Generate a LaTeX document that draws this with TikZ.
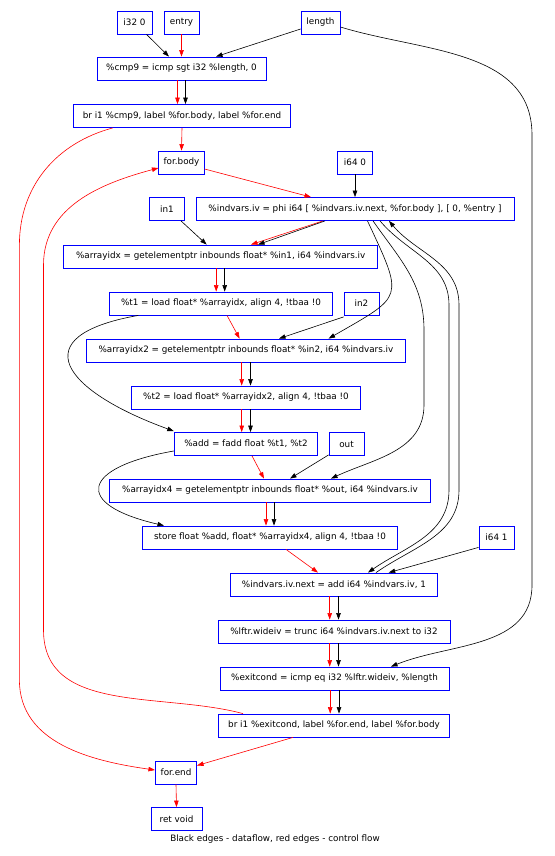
\documentclass[tikz,border=0pt]{standalone}
\usepackage{fontspec}
\setmainfont{DejaVu Sans}
\usepackage{xcolor}
\usepackage{tikz}
\usetikzlibrary{arrows.meta, calc}

\begin{document}
\begin{tikzpicture}[
    x=1pt, y=1pt,
    box/.style={draw=blue, line width=0.8pt, minimum height=23pt, inner sep=0pt,
        font=\fontsize{8.8}{10}\selectfont},
    df/.style={draw=black, line width=0.6pt, -{Triangle[length=6.5pt,width=4.5pt]}},
    cf/.style={draw=red, line width=0.6pt, -{Triangle[length=6.5pt,width=4.5pt]}}
    ]
    \useasboundingbox (0,0) rectangle (554,-856);

    \node[box, minimum width=35pt] (ione) at (134.5,-22.5) {i32 0};
    \node[box, minimum width=35pt] (entry) at (181.5,-22.5) {entry};
    \node[box, minimum width=39pt] (len) at (320.5,-22.5) {length};
    \node[box, minimum width=169pt] (cmp) at (181.5,-68.5) {\%cmp9 = icmp sgt i32 \%length, 0};
    \node[box, minimum width=216.5pt] (brone) at (182,-116) {br i1 \%cmp9, label \%for.body, label \%for.end};
    \node[box, minimum width=45.3pt] (fb) at (181.5,-162.5) {for.body};
    \node[box, minimum width=35pt] (izero) at (355,-162.5) {i64 0};
    \node[box, minimum width=318pt] (iv) at (355,-209) {\%indvars.iv = phi i64 [ \%indvars.iv.next, \%for.body ], [ 0, \%entry ]};
    \node[box, minimum width=35.5pt] (inone) at (167,-209) {in1};
    \node[box, minimum width=314pt] (aidx) at (220.7,-256.5) {\%arrayidx = getelementptr inbounds float* \%in1, i64 \%indvars.iv};
    \node[box, minimum width=222.5pt] (tone) at (221,-303.5) {\%t1 = load float* \%arrayidx, align 4, !tbaa !0};
    \node[box, minimum width=35pt] (intwo) at (361.5,-303.5) {in2};
    \node[box, minimum width=319.7pt] (aidxtwo) at (246,-350.5) {\%arrayidx2 = getelementptr inbounds float* \%in2, i64 \%indvars.iv};
    \node[box, minimum width=229.4pt] (ttwo) at (246,-397.5) {\%t2 = load float* \%arrayidx2, align 4, !tbaa !0};
    \node[box, minimum width=143.7pt] (add) at (246,-444) {\%add = fadd float \%t1, \%t2};
    \node[box, minimum width=35pt] (out) at (346.5,-444) {out};
    \node[box, minimum width=320.4pt] (aidxfour) at (270,-490.5) {\%arrayidx4 = getelementptr inbounds float* \%out, i64 \%indvars.iv};
    \node[box, minimum width=255.6pt] (store) at (270,-537.5) {store float \%add, float* \%arrayidx4, align 4, !tbaa !0};
    \node[box, minimum width=35.2pt] (ivone) at (496.5,-537.5) {i64 1};
    \node[box, minimum width=206.5pt] (next) at (334,-584.5) {\%indvars.iv.next = add i64 \%indvars.iv, 1};
    \node[box, minimum width=232pt] (lftr) at (334,-631.5) {\%lftr.wideiv = trunc i64 \%indvars.iv.next to i32};
    \node[box, minimum width=228.8pt] (exc) at (334.5,-678.5) {\%exitcond = icmp eq i32 \%lftr.wideiv, \%length};
    \node[box, minimum width=230.8pt] (brtwo) at (334,-725.5) {br i1 \%exitcond, label \%for.end, label \%for.body};
    \node[box, minimum width=41.3pt] (fe) at (176,-772.5) {for.end};
    \node[box, minimum width=50.8pt] (ret) at (176.5,-819) {ret void};
    \node[font=\fontsize{8.8}{10}\selectfont] (caption) at (275,-839) {Black edges - dataflow, red edges - control flow};

    % bends of the long edges
    \coordinate (rt1) at (532,-135);
    \coordinate (rt2) at (532,-585);
    \coordinate (lf1) at (19.4,-245);
    \coordinate (lf2) at (19.4,-680);
    \coordinate (lf3) at (43.5,-630);
    \coordinate (lf4) at (43.5,-265);
    \coordinate (wa1) at (424,-330);
    \coordinate (wa2) at (424,-405);
    \coordinate (wb1) at (449,-305);
    \coordinate (wb2) at (449,-490);
    \coordinate (wc1) at (459,-305);
    \coordinate (wc2) at (459,-490);

    \draw[df] ([xshift=12pt]ione.south) -- ([xshift=-12.5pt]cmp.north);
    \draw[cf] (entry.south) -- (cmp.north);
    \draw[df] ([yshift=-6.5pt]len.west) -- ([xshift=34.5pt]cmp.north);
    \draw[df] ([yshift=-4.5pt]len.east) to[out=-17,in=90] (rt1) -- (rt2)
        to[out=-90,in=22] ([xshift=56.5pt]exc.north);
    \draw[cf] ([xshift=-4pt]cmp.south) -- ([xshift=-4pt]cmp.south |- brone.north);
    \draw[df] ([xshift=4pt]cmp.south) -- ([xshift=4pt]cmp.south |- brone.north);
    \draw[cf] (brone.south) -- (fb.north);
    \draw[cf] ([xshift=39.5pt]brone.south west) to[out=195,in=90] (lf1) -- (lf2)
        to[out=-90,in=172] ([yshift=2.5pt]fe.west);
    \draw[cf] ([xshift=-91pt]brtwo.north) to[out=165,in=-90] (lf3) -- (lf4)
        to[out=90,in=195] ([yshift=-5.5pt]fb.west);
    \draw[cf] ([yshift=-6.5pt]fb.east) -- ([xshift=-44pt]iv.north);
    \draw[df] (izero.south) -- (iv.north);
    \draw[df] ([xshift=14pt]inone.south) -- ([xshift=-14pt]aidx.north);
    \draw[cf] ([xshift=-32pt]iv.south) -- ([xshift=30.3pt]aidx.north);
    \draw[df] ([xshift=-30pt]iv.south) -- ([xshift=37.3pt]aidx.north);
    \draw[df] ([xshift=12.5pt]iv.south) to[out=-65,in=30,looseness=1.8] ([xshift=82.6pt]aidxtwo.north);
    \draw[df] ([xshift=18pt]iv.south) to[out=-55,in=90] (wa1) -- (wa2)
        to[out=-90,in=25] ([xshift=61pt]aidxfour.north);
    \draw[df] ([xshift=25pt]iv.south) to[out=-50,in=90] (wb1) -- (wb2)
        to[out=-90,in=35] ([xshift=34pt]next.north);
    \draw[df] ([xshift=42pt]next.north) to[out=35,in=-90] (wc2) -- (wc1)
        to[out=90,in=-50] ([xshift=34pt]iv.south);
    \draw[df] ([yshift=2pt]ivone.south west) -- ([xshift=54.7pt]next.north);
    \draw[cf] ([xshift=-4.5pt]aidx.south) -- ([xshift=-4.5pt]aidx.south |- tone.north);
    \draw[df] ([xshift=4pt]aidx.south) -- ([xshift=4pt]aidx.south |- tone.north);
    \draw[df] ([xshift=29pt]tone.south west) to[out=190,in=160,looseness=2.5] ([yshift=1pt]add.north west);
    \draw[cf] ([xshift=6pt]tone.south) -- ([xshift=-6.4pt]aidxtwo.north);
    \draw[df] ([yshift=-1.5pt]intwo.south west) -- ([xshift=33pt]aidxtwo.north);
    \draw[cf] ([xshift=-4.3pt]aidxtwo.south) -- ([xshift=-4.3pt]aidxtwo.south |- ttwo.north);
    \draw[df] ([xshift=4.5pt]aidxtwo.south) -- ([xshift=4.5pt]aidxtwo.south |- ttwo.north);
    \draw[cf] ([xshift=-4.3pt]ttwo.south) -- ([xshift=-4.3pt]ttwo.south |- add.north);
    \draw[df] ([xshift=4.5pt]ttwo.south) -- ([xshift=4.5pt]ttwo.south |- add.north);
    \draw[cf] ([xshift=6pt]add.south) -- ([xshift=-6pt]aidxfour.north);
    \draw[df] ([yshift=1pt]out.south west) -- ([xshift=20pt]aidxfour.north);
    \draw[df] ([yshift=-7pt]add.west) to[out=190,in=167,looseness=3.2] ([xshift=-106pt]store.north);
    \draw[cf] ([xshift=-4pt]aidxfour.south) -- ([xshift=-4pt]aidxfour.south |- store.north);
    \draw[df] ([xshift=4pt]aidxfour.south) -- ([xshift=4pt]aidxfour.south |- store.north);
    \draw[cf] ([xshift=16pt]store.south) -- ([xshift=-16pt]next.north);
    \draw[cf] ([xshift=-4.3pt]next.south) -- ([xshift=-4.3pt]next.south |- lftr.north);
    \draw[df] ([xshift=4.5pt]next.south) -- ([xshift=4.5pt]next.south |- lftr.north);
    \draw[cf] ([xshift=-4.3pt]lftr.south) -- ([xshift=-4.3pt]lftr.south |- exc.north);
    \draw[df] ([xshift=4.5pt]lftr.south) -- ([xshift=4.5pt]lftr.south |- exc.north);
    \draw[cf] ([xshift=-4.3pt]exc.south) -- ([xshift=-4.3pt]exc.south |- brtwo.north);
    \draw[df] ([xshift=4.5pt]exc.south) -- ([xshift=4.5pt]exc.south |- brtwo.north);
    \draw[cf] ([xshift=-41pt]brtwo.south) -- ([yshift=7pt]fe.east);
    \draw[cf] (fe.south) -- (ret.north);
\end{tikzpicture}
\end{document}
